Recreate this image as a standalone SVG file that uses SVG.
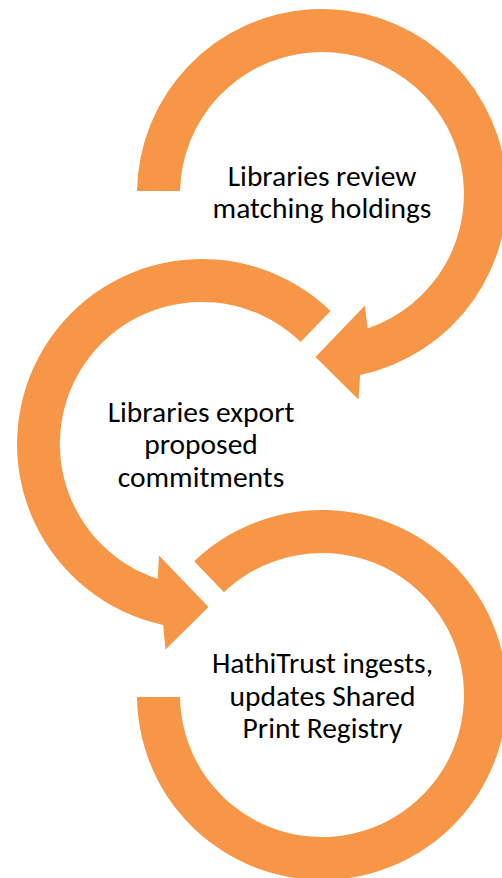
<svg xmlns="http://www.w3.org/2000/svg" width="502" height="878" viewBox="0 0 502 878">
  <style>
    .ring { fill: #F79646; stroke: none; }
    .lbl { font-family: Carlito, "Liberation Sans", Arial, sans-serif; font-size: 29.5px; fill: #000000; text-anchor: middle; }
  </style>
  <rect x="0" y="0" width="502" height="878" fill="#FFFFFF"/>
  <g id="node1">
    <path class="ring" d="M 137,191 A 185,185 0 1 1 360.1,375 L 358.5,399.5 L 315.5,357 L 365,305.5 L 367.5,328.5 A 142,142 0 1 0 180,191 Z"/>
    <text class="lbl" x="322" y="186">Libraries review</text>
    <text class="lbl" x="322" y="218">matching holdings</text>
  </g>
  <g id="node2">
    <path class="ring" d="M 330.5,310.9 A 185,185 0 1 0 163.2,624.9 L 165.5,649.5 L 208.5,607 L 159,555.5 L 157.7,578.9 A 142,142 0 1 1 300.6,341.9 Z"/>
    <text class="lbl" x="201" y="422">Libraries export</text>
    <text class="lbl" x="201" y="454">proposed</text>
    <text class="lbl" x="201" y="487">commitments</text>
  </g>
  <g id="node3">
    <path class="ring" d="M 137,697 A 185,185 0 1 0 194.2,561.2 L 223.9,592.3 A 142,142 0 1 1 180,697 Z"/>
    <text class="lbl" x="322.5" y="673">HathiTrust ingests,</text>
    <text class="lbl" x="322.5" y="706">updates Shared</text>
    <text class="lbl" x="322.5" y="738">Print Registry</text>
  </g>
</svg>
